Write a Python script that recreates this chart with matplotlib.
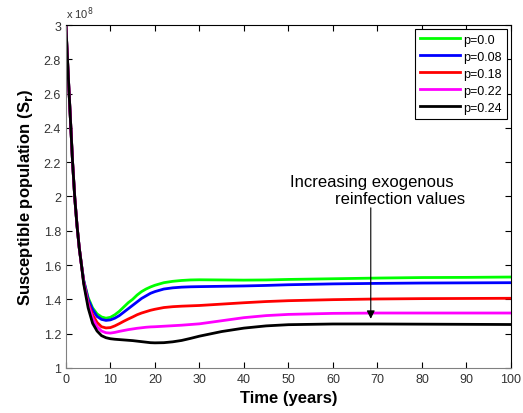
import numpy as np
import matplotlib
matplotlib.use("Agg")
import matplotlib.pyplot as plt
from matplotlib.ticker import FuncFormatter

plt.rcParams['font.family'] = ['Liberation Sans', 'DejaVu Sans']

# time points (years)
t = [0, 0.5, 1, 1.5, 2, 2.5, 3, 3.5,
     4, 5, 6, 7, 8, 9, 10, 11, 12, 13, 14, 15, 16, 17, 18, 19, 20,
     22, 24, 26, 28, 30, 35, 40, 45, 50, 60, 70, 80, 90, 100]

# common early decay (x 1e8)
start = [3.00, 2.72, 2.46, 2.20, 1.99, 1.83, 1.70, 1.60]

# susceptible population, x 1e8
s_p000 = start + [1.51, 1.41, 1.35, 1.315, 1.297, 1.29, 1.295, 1.31, 1.33, 1.355, 1.38,
                  1.40, 1.425, 1.445, 1.46, 1.472, 1.482, 1.497, 1.505, 1.51, 1.513,
                  1.514, 1.513, 1.512, 1.513, 1.516, 1.52, 1.524, 1.527, 1.528, 1.53]
s_p008 = start + [1.51, 1.40, 1.34, 1.30, 1.283, 1.277, 1.28, 1.29, 1.305, 1.325, 1.345,
                  1.365, 1.385, 1.405, 1.42, 1.435, 1.445, 1.46, 1.467, 1.471, 1.473,
                  1.474, 1.476, 1.478, 1.481, 1.485, 1.49, 1.493, 1.495, 1.496, 1.497]
s_p018 = start + [1.50, 1.38, 1.31, 1.265, 1.24, 1.233, 1.235, 1.245, 1.258, 1.272, 1.285,
                  1.297, 1.31, 1.32, 1.328, 1.336, 1.342, 1.352, 1.357, 1.36, 1.362,
                  1.364, 1.372, 1.38, 1.387, 1.392, 1.398, 1.402, 1.404, 1.405, 1.406]
s_p022 = start + [1.50, 1.37, 1.29, 1.24, 1.215, 1.205, 1.203, 1.207, 1.213, 1.218, 1.223,
                  1.227, 1.231, 1.234, 1.237, 1.239, 1.24, 1.243, 1.246, 1.249, 1.253,
                  1.257, 1.275, 1.293, 1.305, 1.312, 1.318, 1.32, 1.32, 1.32, 1.32]
s_p024 = start + [1.49, 1.35, 1.26, 1.215, 1.188, 1.176, 1.17, 1.167, 1.165, 1.163, 1.161,
                  1.159, 1.156, 1.153, 1.15, 1.147, 1.146, 1.147, 1.152, 1.16, 1.172,
                  1.185, 1.212, 1.232, 1.245, 1.252, 1.256, 1.256, 1.255, 1.254, 1.253]

labels = ['p=0.0', 'p=0.08', 'p=0.18', 'p=0.22', 'p=0.24']
series = [s_p000, s_p008, s_p018, s_p022, s_p024]
colors = ['#00ff00', '#0000ff', '#ff0000', '#ff00ff', '#000000']

fig = plt.figure(figsize=(5.23, 4.14), dpi=100)
ax = fig.add_axes([0.126, 0.109, 0.851, 0.828])

for s, c, lab in zip(series, colors, labels):
    ax.plot(t, np.array(s) * 1e8, color=c, lw=2.0, label=lab)

ax.set_xlim(0, 100)
ax.set_ylim(1e8, 3e8)
ax.set_xticks(np.arange(0, 101, 10))
ax.set_yticks(np.arange(1e8, 3.01e8, 0.2e8))
ax.yaxis.set_major_formatter(FuncFormatter(lambda v, pos: '%g' % round(v / 1e8, 2)))

# MATLAB-style exponent label
ax.text(0.0, 1.012, 'x 10$^{8}$', transform=ax.transAxes, fontsize=8,
        color='#333333', ha='left', va='bottom')

ax.tick_params(direction='in', top=True, right=True, labelsize=9,
               labelcolor='#333333', length=4, width=0.8)
for side in ['left', 'bottom']:
    ax.spines[side].set_color('#808080')
for side in ['top', 'right']:
    ax.spines[side].set_color('black')

ax.set_xlabel('Time (years)', fontsize=12, fontweight='bold', labelpad=4)
ax.set_ylabel('Susceptible population (S$_\\mathbf{r}$)', fontsize=12,
              fontweight='bold', labelpad=6)

leg = ax.legend(loc='upper right', fontsize=9, handlelength=3.2, labelspacing=0.4,
                borderaxespad=0.3, fancybox=False, framealpha=1, edgecolor='black',
                handletextpad=0.3, borderpad=0.4)
leg.get_frame().set_linewidth(0.8)

ax.annotate('', xy=(68.5, 1.27e8), xytext=(68.5, 1.95e8),
            arrowprops=dict(arrowstyle='-|>', color='black', lw=0.8, mutation_scale=12))
ax.text(50.3, 2.09e8, 'Increasing exogenous', fontsize=12, ha='left', va='center')
ax.text(89.7, 1.99e8, 'reinfection values', fontsize=12, ha='right', va='center')

fig.savefig('out.png', dpi=100)
